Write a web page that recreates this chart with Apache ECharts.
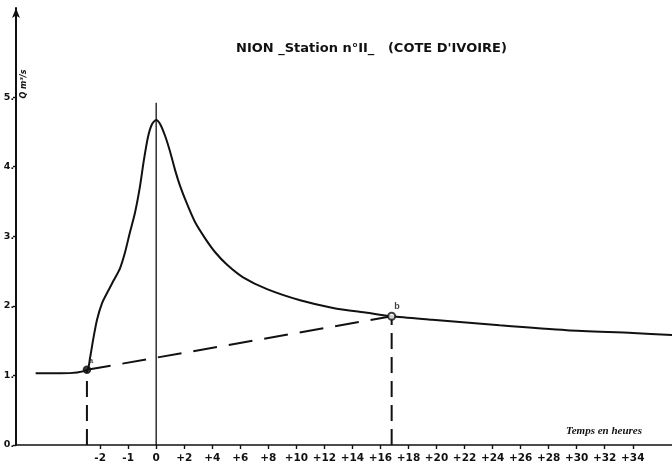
<!DOCTYPE html>
<html>
<head>
<meta charset="utf-8">
<script src="https://cdn.jsdelivr.net/npm/echarts@6/dist/echarts.min.js"></script>
<style>html,body{margin:0;padding:0;background:#fff}#c{width:672px;height:474px}</style>
</head>
<body>
<div id="c"></div>
<script>
// Hydrograph (time in hours, discharge in m3/s)
const hydroHours = [-4.3, -3.4, -2.47, -2.36, -2.25, -2.11, -1.93, -1.72, -1.51, -1.29, -1.11, -0.94, -0.76, -0.58, -0.44, -0.29, -0.15, 0,
                    0.29, 0.64, 1.0, 1.35, 1.71, 2.21, 2.78, 3.49, 4.21, 5.06, 6.2, 7.91, 10.27, 12.62, 15.04, 16.8, 19.7, 24.5, 29.3, 34.0, 36.8];
const hydroQ     = [1.03, 1.03, 1.08, 1.25, 1.51, 1.80, 2.04, 2.21, 2.37, 2.54, 2.77, 3.05, 3.33, 3.71, 4.09, 4.43, 4.61, 4.67,
                    4.61, 4.44, 4.21, 3.95, 3.72, 3.46, 3.20, 2.97, 2.77, 2.59, 2.41, 2.24, 2.08, 1.97, 1.90, 1.85, 1.80, 1.72, 1.65, 1.61, 1.58];
// Base-flow separation line a -> b
const pointA = { h: -2.47, q: 1.08, name: 'a' };
const pointB = { h: 16.8, q: 1.85, name: 'b' };
const peakLineTop = 4.92;
// Axis tick labels (hours)
const xTickHours = [-2, -1, 0, 2, 4, 6, 8, 10, 12, 14, 16, 18, 20, 22, 24, 26, 28, 30, 32, 34];
const yTicks = [0, 1, 2, 3, 4, 5];

// the original axis is piecewise: 1 h per step before 0, 2 h per step after
function pos(h) { return h <= 0 ? h + 5 : 5 + h / 2; }
function hourLabel(p) { const h = p <= 5 ? p - 5 : 2 * (p - 5); return h > 0 ? '+' + Math.round(h) : String(Math.round(h)); }

const ink = '#111';
const chart = echarts.init(document.getElementById('c'));
chart.setOption({
  backgroundColor: '#fff',
  animation: false,
  title: {
    text: "NION _Station n°II_   (COTE D'IVOIRE)",
    left: 231, top: 37,
    textStyle: { color: ink, fontSize: 13, fontWeight: 'bold', fontFamily: 'DejaVu Sans' }
  },
  grid: { left: 16, right: 0, top: 8, bottom: 29, containLabel: false },
  xAxis: {
    type: 'value', min: 0, max: 23.4,
    name: 'Temps en heures', nameLocation: 'end', nameGap: -106,
    nameTextStyle: { color: ink, fontStyle: 'italic', fontWeight: 'bold', fontSize: 11, fontFamily: 'Liberation Serif', verticalAlign: 'bottom', padding: [0, 0, 8, 0] },
    axisLine: { show: true, lineStyle: { color: ink, width: 1.6 } },
    axisTick: { show: true, length: 4, lineStyle: { color: ink, width: 1.4 }, customValues: xTickHours.map(pos) },
    axisLabel: { color: ink, fontWeight: 'bold', fontSize: 10.5, fontFamily: 'DejaVu Sans', margin: 8,
      customValues: xTickHours.map(pos), formatter: v => hourLabel(v) },
    splitLine: { show: false }
  },
  yAxis: {
    type: 'value', min: 0, max: 6.28,
    axisLine: { show: true, lineStyle: { color: ink, width: 2 }, symbol: ['none', 'arrow'], symbolSize: [6, 10] },
    axisTick: { show: true, length: 3, lineStyle: { color: ink, width: 1.4 }, customValues: yTicks },
    axisLabel: { color: ink, fontWeight: 'bold', fontSize: 9.5, fontFamily: 'DejaVu Sans', margin: 2,
      customValues: yTicks, formatter: v => v + '.' },
    splitLine: { show: false }
  },
  graphic: [{
    type: 'text', x: 24, y: 84, rotation: Math.PI / 2,
    style: { text: 'Q m³/s', fill: ink, font: 'bold italic 8px "DejaVu Sans"', align: 'center', verticalAlign: 'middle' }
  }],
  series: [
    {
      type: 'line', name: 'hydrogramme', smooth: 0.25, showSymbol: false,
      lineStyle: { color: ink, width: 2 },
      data: hydroHours.map((h, i) => [pos(h), hydroQ[i]])
    },
    {
      type: 'line', name: 'séparation', showSymbol: false,
      lineStyle: { color: ink, width: 2, type: [24, 12] },
      data: [[pos(pointA.h), pointA.q], [pos(pointB.h), pointB.q]]
    },
    {
      type: 'line', showSymbol: false, lineStyle: { color: ink, width: 2, type: [16, 8] },
      data: [[pos(pointA.h), 0], [pos(pointA.h), pointA.q]]
    },
    {
      type: 'line', showSymbol: false, lineStyle: { color: ink, width: 2, type: [16, 8] },
      data: [[pos(pointB.h), 0], [pos(pointB.h), pointB.q]]
    },
    {
      type: 'line', showSymbol: false, lineStyle: { color: ink, width: 1.3 },
      data: [[pos(0), 0], [pos(0), peakLineTop]]
    },
    {
      type: 'scatter', symbol: 'circle', symbolSize: 7, z: 5,
      data: [
        { value: [pos(pointA.h), pointA.q], itemStyle: { color: ink, borderColor: ink, borderWidth: 1.5 },
          label: { show: true, formatter: pointA.name, position: [6, -9], color: ink, fontSize: 8, fontWeight: 'bold' } },
        { value: [pos(pointB.h), pointB.q], itemStyle: { color: '#fff', borderColor: ink, borderWidth: 2 },
          label: { show: true, formatter: pointB.name, position: [7, -10], color: ink, fontSize: 9, fontWeight: 'bold' } }
      ]
    }
  ]
});
</script>
</body>
</html>
